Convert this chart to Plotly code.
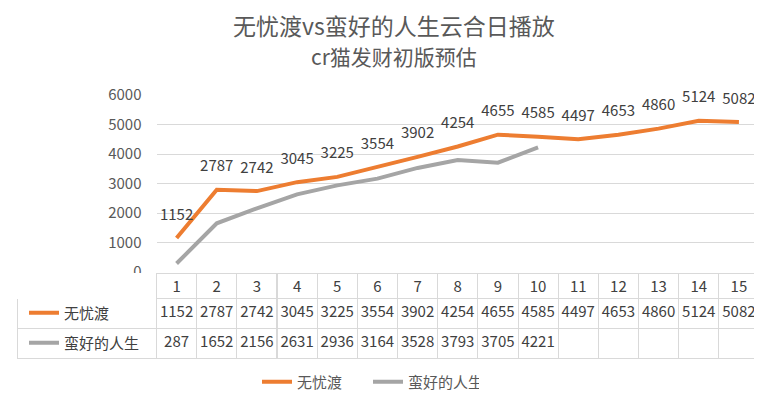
import plotly.graph_objects as go

## Data
days = list(range(1, 16))
wuyoudu = [1152, 2787, 2742, 3045, 3225, 3554, 3902, 4254, 4655, 4585, 4497, 4653, 4860, 5124, 5082]
manhao = [287, 1652, 2156, 2631, 2936, 3164, 3528, 3793, 3705, 4221]
series_names = ["无忧渡", "蛮好的人生"]
y_ticks = [0, 1000, 2000, 3000, 4000, 5000, 6000]
title_text = "无忧渡vs蛮好的人生云合日播放"
subtitle_text = "cr猫发财初版预估"

ORANGE = "#ED7D31"
GREY = "#A5A5A5"
TEXT = "#595959"
CELL_TEXT = "#404040"
BORDER = "#D9D9D9"
FONT = "Noto Sans CJK SC"
colors = [ORANGE, GREY]

# page body has an 8px margin, so the figure is made smaller and
# window pixel positions are converted to paper fractions
OFF = 8
W, H = 762 - OFF, 402 - OFF
RIGHT = 759  # right edge of plot area / table, window px


def px(x):
    return (x - OFF) / W


def py(y):
    return 1 - (y - OFF) / H


## Create figure
fig = go.Figure()

fig.add_trace(go.Scatter(
    x=days, y=wuyoudu, name=series_names[0], mode="lines+markers+text",
    line=dict(color=ORANGE, width=4), marker=dict(size=22, opacity=0),
    text=[str(v) for v in wuyoudu], textposition="top center",
    textfont=dict(size=15, color=CELL_TEXT, family=FONT),
    cliponaxis=False, hoverinfo="skip", showlegend=False,
))
fig.add_trace(go.Scatter(
    x=days[:len(manhao)], y=manhao, name=series_names[1], mode="lines",
    line=dict(color=GREY, width=4), hoverinfo="skip", showlegend=False,
))

# legend entries: bottom legend has both, table rows get one each
for i, (nm, col) in enumerate(zip(series_names, colors)):
    for lg in ["legend", f"legend{i + 2}"]:
        fig.add_trace(go.Scatter(
            x=[None], y=[None], name=nm, mode="lines", line=dict(color=col, width=4),
            legend=lg, hoverinfo="skip",
        ))

# data table below the plot, columns aligned with the categories
header_vals = [""] + [str(d) for d in days]
col_vals = [["", ""]]
for i in range(len(days)):
    second = str(manhao[i]) if i < len(manhao) else ""
    col_vals.append([str(wuyoudu[i]), second])

band = (RIGHT - 156.5) / len(days)
fig.add_trace(go.Table(
    domain=dict(x=[px(17), px(RIGHT)], y=[py(360), py(273)]),
    columnwidth=[139.5] + [band] * len(days),
    header=dict(values=header_vals, height=25, align="center",
                line=dict(color=["white"] + [BORDER] * len(days), width=1),
                fill=dict(color="white"),
                font=dict(size=15, color=CELL_TEXT, family=FONT)),
    cells=dict(values=col_vals, height=30, align="center",
               line=dict(color=BORDER, width=1), fill=dict(color="white"),
               font=dict(size=15, color=CELL_TEXT, family=FONT)),
))

row_font = dict(size=15, color=CELL_TEXT, family=FONT)
fig.update_layout(
    width=W, height=H,
    margin=dict(l=0, r=0, t=0, b=0, autoexpand=False),
    paper_bgcolor="white", plot_bgcolor="white",
    font=dict(family=FONT, color=TEXT),
    showlegend=True,
    legend=dict(orientation="h", x=px(257), xanchor="left", y=py(382), yanchor="middle",
                font=dict(size=15, color=TEXT, family=FONT), entrywidth=66,
                bgcolor="rgba(0,0,0,0)"),
    legend2=dict(x=px(24), xanchor="left", y=py(313), yanchor="middle",
                 font=row_font, bgcolor="rgba(0,0,0,0)"),
    legend3=dict(x=px(24), xanchor="left", y=py(343), yanchor="middle",
                 font=row_font, bgcolor="rgba(0,0,0,0)"),
    annotations=[
        dict(text=title_text, x=px(394), y=py(25), xref="paper", yref="paper",
             xanchor="center", yanchor="middle", showarrow=False,
             font=dict(size=23, color=TEXT, family=FONT)),
        dict(text=subtitle_text, x=px(394), y=py(56), xref="paper", yref="paper",
             xanchor="center", yanchor="middle", showarrow=False,
             font=dict(size=21, color=TEXT, family=FONT)),
    ],
)
fig.update_xaxes(
    domain=[px(156.5), px(RIGHT)], range=[0.5, 15.5], showticklabels=False,
    showgrid=False, zeroline=False, showline=False,
)
fig.update_yaxes(
    domain=[py(272), py(95)], range=[0, 6000], tickvals=y_ticks,
    showgrid=True, gridcolor=BORDER, gridwidth=1, zeroline=False,
    tickfont=dict(size=15, color=TEXT, family=FONT), ticklabelstandoff=14,
)

fig.write_html("out.html")
